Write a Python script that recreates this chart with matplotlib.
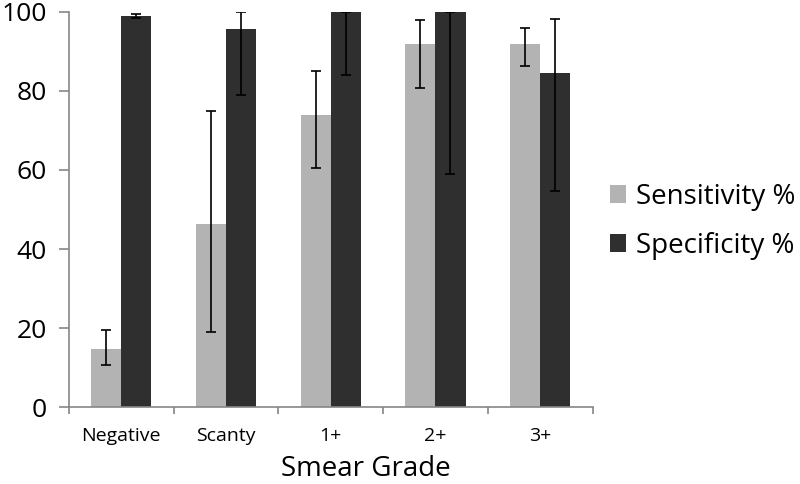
import matplotlib
matplotlib.use('Agg')
import matplotlib.pyplot as plt
import numpy as np

plt.rcParams['font.family'] = ['Open Sans', 'DejaVu Sans']

# data
grades = ['Negative', 'Scanty', '1+', '2+', '3+']
sensitivity = [14.8, 46.3, 74.0, 91.9, 91.9]
sens_low = [10.8, 19.1, 60.4, 80.8, 86.2]
sens_high = [19.6, 75.0, 85.1, 97.9, 95.8]
specificity = [98.9, 95.7, 100.0, 100.0, 84.4]
spec_low = [98.4, 78.9, 83.9, 59.1, 54.6]
spec_high = [99.5, 100.0, 100.0, 100.0, 98.2]

sens = np.array(sensitivity)
spec = np.array(specificity)
sens_err = [sens - np.array(sens_low), np.array(sens_high) - sens]
spec_err = [spec - np.array(spec_low), np.array(spec_high) - spec]

fig = plt.figure(figsize=(8, 4.84), dpi=100)
ax = fig.add_axes([0.08625, 0.1585, 0.6544, 0.8173])

x = np.arange(len(grades))
w = 0.287
err_kw = dict(ecolor='black', elinewidth=1.2, capsize=3.3, capthick=1.2)
ax.bar(x - w / 2, sens, w, color='#b3b3b3', label='Sensitivity %',
       yerr=sens_err, error_kw=err_kw, zorder=2)
ax.bar(x + w / 2, spec, w, color='#2f2f2f', label='Specificity %',
       yerr=spec_err, error_kw=err_kw, zorder=2)

ax.set_xlim(-0.5, len(grades) - 0.5)
ax.set_ylim(0, 100)
ax.set_yticks(np.arange(0, 101, 20))

# boundary ticks as major, category labels as minor
ax.set_xticks(np.arange(-0.5, len(grades), 1.0))
ax.set_xticklabels([])
ax.set_xticks(x, minor=True)
ax.set_xticklabels(grades, minor=True)
ax.tick_params(axis='x', which='major', length=5, width=1.2, color='#868686', direction='out')
ax.tick_params(axis='x', which='minor', length=0, labelsize=14, pad=14)
ax.tick_params(axis='y', length=7, width=1.2, color='#868686', labelsize=19, pad=9)

for s in ['top', 'right']:
    ax.spines[s].set_visible(False)
for s in ['left', 'bottom']:
    ax.spines[s].set_color('#868686')
    ax.spines[s].set_linewidth(1.2)

# x label sits right of the axes centre in the original
fig.text(366 / 800, 0.003, 'Smear Grade', fontsize=20, ha='center', va='bottom')

fig.legend(loc='center left', bbox_to_anchor=(0.762, 0.5424), frameon=False,
           fontsize=20, handlelength=0.6, handleheight=0.6, handletextpad=0.35,
           labelspacing=0.75, borderpad=0, borderaxespad=0)

fig.savefig('out.png', dpi=100)
